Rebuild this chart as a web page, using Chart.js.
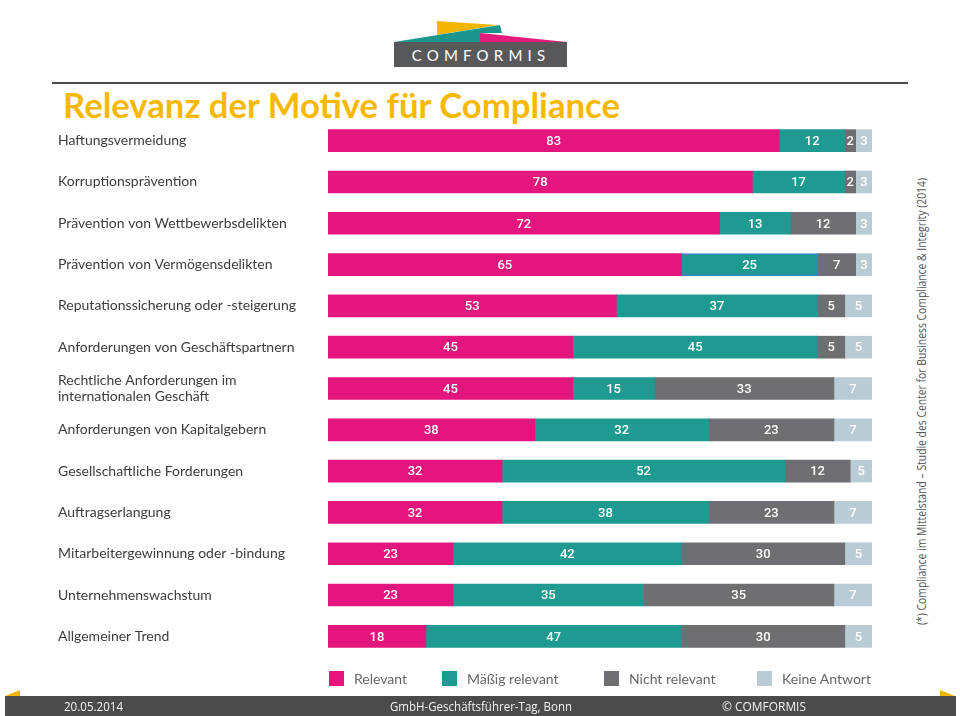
<!DOCTYPE html>
<html>
<head>
<meta charset="utf-8">
<script src="https://cdn.jsdelivr.net/npm/chart.js@4"></script>
<style>
  html, body { margin: 0; padding: 0; background: #fff; }
  #page { position: relative; width: 960px; height: 716px; overflow: hidden; background: #fff; }
  #chart { position: absolute; left: 0; top: 0; }
  .abs { position: absolute; white-space: nowrap; }
  #title { left: 63px; top: 84px; font: bold 34px Lato, sans-serif; color: #f6b900; transform-origin: left top; }
  #rule { left: 52px; top: 82px; width: 856px; height: 2px; background: #4a4a4a; }
  #side { font: 12px "Open Sans", sans-serif; color: #555; transform-origin: left top; }
  #footer { left: 5px; top: 696px; width: 951px; height: 20px; background: #4b4b4b; }
  .foot { top: 698px; font: 12px "Open Sans", sans-serif; color: #f2f2f2; transform-origin: left top; }
  .legend-item { position: absolute; top: 670px; font: 14px Lato, sans-serif; color: #666; }
  .legend-item span.box { display: inline-block; width: 15px; height: 15px; vertical-align: -2px; margin-right: 10px; }
</style>
</head>
<body>
<div id="page">
  <svg class="abs" style="left:0;top:0" width="960" height="80">
    <polygon points="437,21 498,25 437,35" fill="#f2b600"/>
    <polygon points="394,42 500,25 502,33 480,33 480,42" fill="#1c968c"/>
    <polygon points="480,33 567,42 480,42" fill="#e31b7d"/>
    <rect x="394" y="42" width="173" height="25" fill="#58585a"/>
    <text x="481" y="61" text-anchor="middle" font-family="Lato, sans-serif" font-size="15" letter-spacing="5.2" fill="#fff">COMFORMIS</text>
  </svg>
  <div id="rule" class="abs"></div>
  <div id="title" class="abs" data-w="557">Relevanz der Motive für Compliance</div>
  <div id="side" class="abs" data-w="447">(*) Compliance im Mittelstand – Studie des Center for Business Compliance &amp; Integrity (2014)</div>
  <canvas id="chart" width="960" height="716"></canvas>
  <div id="legend"></div>
  <svg class="abs" style="left:0;top:688px" width="960" height="10">
    <polygon points="5,8 20,2 20,8" fill="#f2b600"/>
    <polygon points="940,2 955,8 940,8" fill="#f2b600"/>
  </svg>
  <div id="footer" class="abs"></div>
  <div class="abs foot" style="left:64px" data-w="59">20.05.2014</div>
  <div class="abs foot" style="left:390px" data-w="182">GmbH-Geschäftsführer-Tag, Bonn</div>
  <div class="abs foot" style="left:722px" data-w="84">© COMFORMIS</div>
</div>
<script>
const categories = [
  'Haftungsvermeidung',
  'Korruptionsprävention',
  'Prävention von Wettbewerbsdelikten',
  'Prävention von Vermögensdelikten',
  'Reputationssicherung oder -steigerung',
  'Anforderungen von Geschäftspartnern',
  ['Rechtliche Anforderungen im', 'internationalen Geschäft'],
  'Anforderungen von Kapitalgebern',
  'Gesellschaftliche Forderungen',
  'Auftragserlangung',
  'Mitarbeitergewinnung oder -bindung',
  'Unternehmenswachstum',
  'Allgemeiner Trend'
];
const relevant = [83, 78, 72, 65, 53, 45, 45, 38, 32, 32, 23, 23, 18];
const maessigRelevant = [12, 17, 13, 25, 37, 45, 15, 32, 52, 38, 42, 35, 47];
const nichtRelevant = [2, 2, 12, 7, 5, 5, 33, 23, 12, 23, 30, 35, 30];
const keineAntwort = [3, 3, 3, 3, 5, 5, 7, 7, 5, 7, 5, 7, 5];
const seriesNames = ['Relevant', 'Mäßig relevant', 'Nicht relevant', 'Keine Antwort'];

const colors = ['#e4157c', '#1e9a90', '#6e6e73', '#b9ccd5'];
const legendX = [329, 442, 604, 757];

// white value labels in the middle of every segment
const valueLabels = {
  id: 'valueLabels',
  afterDatasetsDraw(chart) {
    const ctx = chart.ctx;
    ctx.save();
    ctx.font = '500 13px Roboto, sans-serif';
    ctx.fillStyle = '#fff';
    ctx.textAlign = 'center';
    ctx.textBaseline = 'middle';
    chart.data.datasets.forEach((ds, i) => {
      chart.getDatasetMeta(i).data.forEach((bar, j) => {
        const p = bar.getCenterPoint();
        const x = Math.min(p.x, (bar.base + chart.chartArea.right) / 2);
        ctx.fillText(ds.data[j], x, p.y + 1);
      });
    });
    ctx.restore();
  }
};

const series = [relevant, maessigRelevant, nichtRelevant, keineAntwort];
const chart = new Chart(document.getElementById('chart'), {
  type: 'bar',
  data: {
    labels: categories,
    datasets: series.map((d, i) => ({
      label: seriesNames[i],
      data: d,
      backgroundColor: colors[i],
      borderColor: i === 1 ? d.map((v, j) => j === 3 ? '#2f86c8' : colors[i]) : colors[i],
      borderWidth: i === 1 ? d.map((v, j) => j === 3 ? 1.5 : 0) : 0,
      borderSkipped: false,
      barThickness: 22
    }))
  },
  options: {
    indexAxis: 'y',
    responsive: false,
    animation: false,
    layout: { padding: { left: 58, right: 88, top: 120, bottom: 59 } },
    plugins: { legend: { display: false }, tooltip: { enabled: false } },
    scales: {
      x: { stacked: true, min: 0, max: 100, display: false },
      y: {
        stacked: true,
        grid: { display: false },
        border: { display: false },
        afterFit(scale) { scale.width = 270; },
        ticks: {
          crossAlign: 'far',
          padding: 0,
          color: '#3d3d3d',
          font: { family: 'Lato, sans-serif', size: 14 }
        }
      }
    }
  },
  plugins: [valueLabels]
});

// legend from the chart's datasets
const legend = document.getElementById('legend');
chart.data.datasets.forEach((ds, i) => {
  const item = document.createElement('div');
  item.className = 'legend-item';
  item.style.left = legendX[i] + 'px';
  item.innerHTML = '<span class="box" style="background:' + ds.backgroundColor + '"></span>' + ds.label;
  legend.appendChild(item);
});

// squeeze texts to the widths in the slide
document.querySelectorAll('[data-w]').forEach(el => {
  const w = el.getBoundingClientRect().width;
  const s = +el.dataset.w / w;
  if (el.id === 'side') {
    const h = el.getBoundingClientRect().height;
    el.style.left = (921 - h / 2) + 'px';
    el.style.top = '625px';
    el.style.transform = 'rotate(-90deg) scaleX(' + s + ')';
  } else {
    el.style.transform = 'scaleX(' + s + ')';
  }
});
</script>
</body>
</html>
